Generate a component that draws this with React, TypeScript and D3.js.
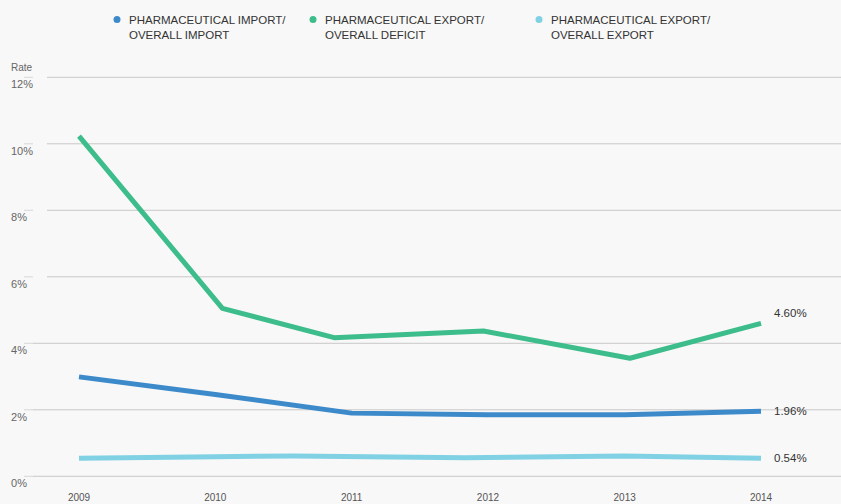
import React from "react";
import * as d3 from "d3";

const years = [2009, 2010, 2011, 2012, 2013, 2014];
const importDates = ["2009-01-01", "2010-01-01", "2011-01-01", "2012-01-01", "2013-01-01", "2014-01-01"];
const importShare = [2.99, 2.46, 1.9, 1.85, 1.85, 1.96];
const deficitDates = ["2009-01-01", "2010-01-20", "2010-11-15", "2011-12-20", "2013-01-15", "2014-01-01"];
const exportDeficit = [10.23, 5.05, 4.17, 4.37, 3.55, 4.6];
const exportDates = ["2009-01-01", "2010-01-01", "2010-08-01", "2011-11-01", "2013-01-01", "2014-01-01"];
const exportShare = [0.54, 0.59, 0.61, 0.56, 0.61, 0.54];
const yTicks = [0, 2, 4, 6, 8, 10, 12];
const seriesNames = [
  ["PHARMACEUTICAL IMPORT/", "OVERALL IMPORT"],
  ["PHARMACEUTICAL EXPORT/", "OVERALL DEFICIT"],
  ["PHARMACEUTICAL EXPORT/", "OVERALL EXPORT"],
];
const colors = ["#3d8acb", "#3dbd8b", "#80d1e3"];
const yLabel = "Rate";

const W = 841;
const H = 504;

export default function App() {
  const x = d3
    .scaleTime()
    .domain([new Date(2009, 0, 1), new Date(2014, 0, 1)])
    .range([79, 761]);
  const y = d3.scaleLinear().domain([0, 12]).range([476.3, 77.3]);
  const series = [
    { dates: importDates, vals: importShare },
    { dates: deficitDates, vals: exportDeficit },
    { dates: exportDates, vals: exportShare },
  ];
  const parse = d3.timeParse("%Y-%m-%d");
  const legendX = [117, 313, 539];
  const labelDy = [4, -6, 4];
  const font = "'Liberation Sans', Arial, Helvetica, sans-serif";

  return (
    <svg
      width={W}
      height={H}
      style={{ position: "absolute", left: 0, top: 0, background: "#f8f8f8", fontFamily: font }}
    >
      <rect x={0} y={0} width={W} height={H} fill="#f8f8f8" />
      {seriesNames.map((n, i) => (
        <g key={i} transform={`translate(${legendX[i]},0)`}>
          <circle cx={0} cy={19.5} r={3.5} fill={colors[i]} />
          <text x={12} y={23.5} fontSize={11.5} fill="#333">
            {n[0]}
          </text>
          <text x={12} y={38.5} fontSize={11.5} fill="#333">
            {n[1]}
          </text>
        </g>
      ))}
      <text x={11} y={71} fontSize={10} fill="#666">
        {yLabel}
      </text>
      {yTicks.map((t) => (
        <g key={t}>
          <line
            x1={t >= 6 ? 47 : 33}
            x2={W}
            y1={y(t)}
            y2={y(t)}
            stroke="#c8c8c8"
            strokeWidth={1}
          />
          <line x1={24} x2={33} y1={y(t)} y2={y(t)} stroke="#d8d8d8" strokeWidth={1} />
          <text x={11} y={y(t) + 11} fontSize={11} fill="#666">
            {t}%
          </text>
        </g>
      ))}
      {years.map((yr) => (
        <text
          key={yr}
          x={x(new Date(yr, 0, 1))}
          y={501}
          fontSize={10}
          fill="#555"
          textAnchor="middle"
        >
          {yr}
        </text>
      ))}
      {series.map((s, i) => {
        const line = d3
          .line<number>()
          .x((_, j) => x(parse(s.dates[j]) as Date))
          .y((d) => y(d));
        return (
          <path
            key={i}
            d={line(s.vals) || ""}
            fill="none"
            stroke={colors[i]}
            strokeWidth={5}
            strokeLinejoin="round"
          />
        );
      })}
      {series.map((s, i) => {
        const last = s.vals[s.vals.length - 1];
        return (
          <text
            key={i}
            x={x(parse(s.dates[s.dates.length - 1]) as Date) + 13}
            y={y(last) + labelDy[i]}
            fontSize={11.5}
            fill="#333"
          >
            {last.toFixed(2)}%
          </text>
        );
      })}
    </svg>
  );
}
